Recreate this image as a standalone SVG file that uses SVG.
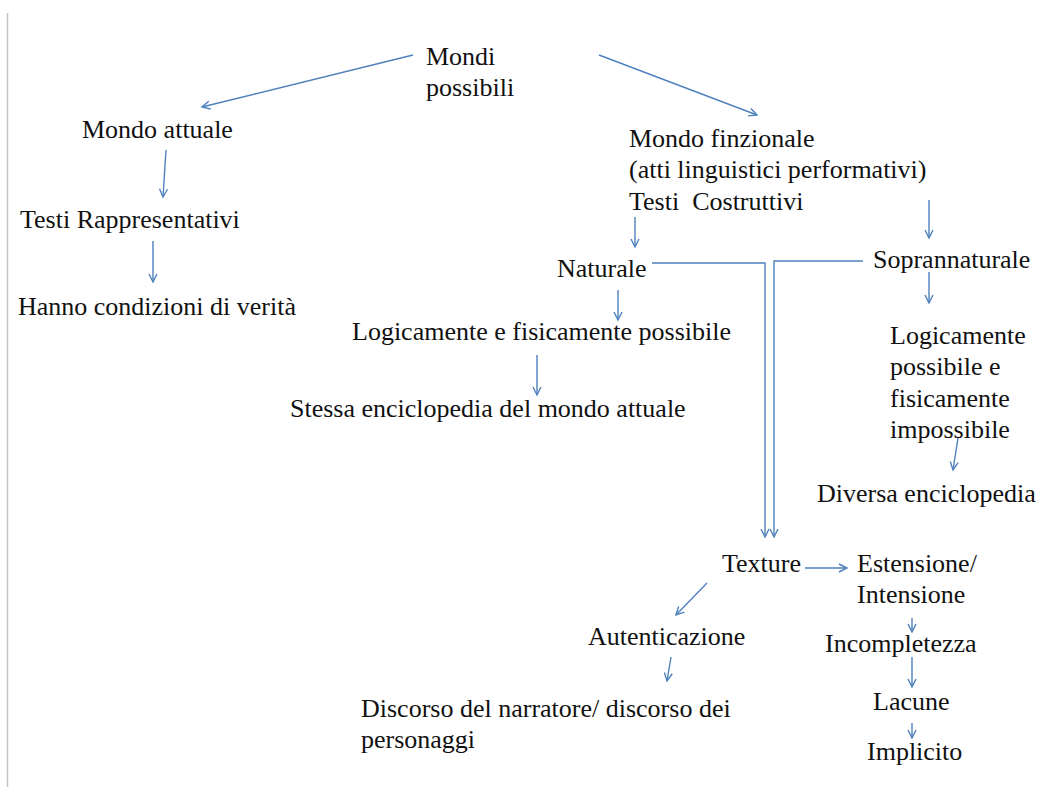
<svg xmlns="http://www.w3.org/2000/svg" width="1040" height="787" viewBox="0 0 1040 787">
<defs>
<marker id="ah" markerWidth="12" markerHeight="12" refX="9" refY="5" orient="auto" markerUnits="userSpaceOnUse">
<path d="M1,1 L9,5 L1,9" fill="none" stroke="#4f81bd" stroke-width="1.4"/>
</marker>
<style>
text{font-family:"Liberation Serif","Times New Roman",serif;font-size:26px;fill:#111}
.c{fill:none;stroke:#4f81bd;stroke-width:1.4}
.a{marker-end:url(#ah)}
</style>
</defs>
<rect width="1040" height="787" fill="#fff"/>
<line x1="7.5" y1="13" x2="7.5" y2="787" stroke="#c4c4c4" stroke-width="1.5"/>
<g id="connectors">
<line class="c a" x1="413" y1="55" x2="202" y2="107"/>
<line class="c a" x1="599" y1="55" x2="757" y2="115"/>
<line class="c a" x1="166" y1="150" x2="163" y2="197"/>
<line class="c a" x1="153" y1="241" x2="153" y2="282"/>
<line class="c a" x1="635" y1="217" x2="635" y2="247"/>
<line class="c a" x1="929" y1="200" x2="929" y2="238"/>
<line class="c a" x1="929" y1="272" x2="929" y2="303"/>
<line class="c a" x1="618" y1="290" x2="618" y2="320"/>
<line class="c a" x1="537" y1="355" x2="537" y2="395"/>
<line class="c a" x1="958" y1="438" x2="953" y2="470"/>
<polyline class="c a" points="652,263 765,263 765,537"/>
<polyline class="c a" points="863,261 774,261 774,537"/>
<line class="c a" x1="805" y1="568" x2="847" y2="568"/>
<line class="c a" x1="707" y1="583" x2="676" y2="615"/>
<line class="c a" x1="671" y1="657" x2="667" y2="681"/>
<line class="c a" x1="912" y1="618" x2="912" y2="632"/>
<line class="c a" x1="912" y1="657" x2="912" y2="687"/>
<line class="c a" x1="912" y1="723" x2="912" y2="738"/>
</g>
<g id="mondi-possibili"><text x="426" y="65">Mondi</text><text x="426" y="96">possibili</text></g>
<g id="mondo-attuale"><text x="82" y="138">Mondo attuale</text></g>
<g id="testi-rappresentativi"><text x="20" y="228">Testi Rappresentativi</text></g>
<g id="hanno-condizioni"><text x="18" y="315">Hanno condizioni di verità</text></g>
<g id="mondo-finzionale"><text x="629" y="147">Mondo finzionale</text><text x="629" y="178">(atti linguistici performativi)</text><text x="629" y="210" style="white-space:pre">Testi  Costruttivi</text></g>
<g id="naturale"><text x="557" y="277">Naturale</text></g>
<g id="soprannaturale"><text x="873" y="268">Soprannaturale</text></g>
<g id="logicamente-fisicamente"><text x="352" y="340">Logicamente e fisicamente possibile</text></g>
<g id="stessa-enciclopedia"><text x="290" y="417">Stessa enciclopedia del mondo attuale</text></g>
<g id="logicamente-possibile"><text x="890" y="344">Logicamente</text><text x="890" y="375">possibile e</text><text x="890" y="407">fisicamente</text><text x="890" y="438">impossibile</text></g>
<g id="diversa-enciclopedia"><text x="817" y="502">Diversa enciclopedia</text></g>
<g id="texture"><text x="722" y="572">Texture</text></g>
<g id="estensione"><text x="857" y="572">Estensione/</text><text x="857" y="603">Intensione</text></g>
<g id="autenticazione"><text x="588" y="645">Autenticazione</text></g>
<g id="discorso"><text x="361" y="717">Discorso del narratore/ discorso dei</text><text x="361" y="748">personaggi</text></g>
<g id="incompletezza"><text x="825" y="652">Incompletezza</text></g>
<g id="lacune"><text x="873" y="710">Lacune</text></g>
<g id="implicito"><text x="867" y="760">Implicito</text></g>
</svg>
